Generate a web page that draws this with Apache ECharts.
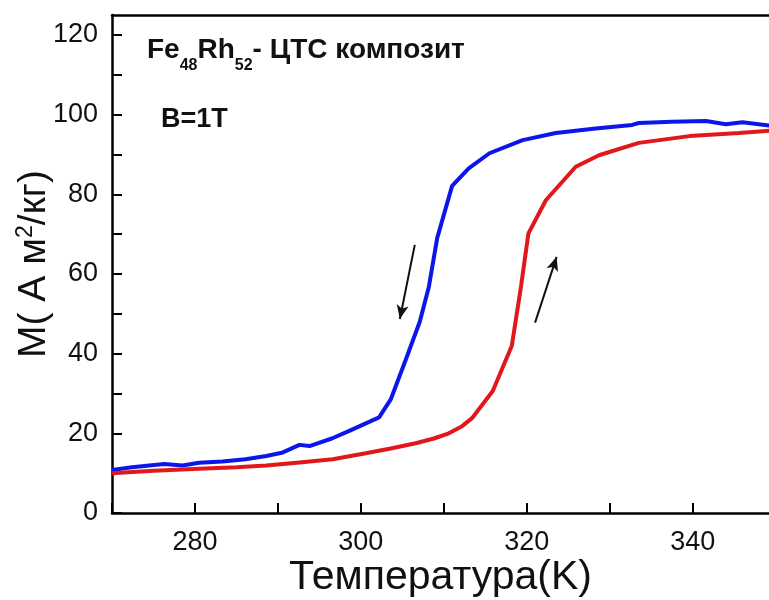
<!DOCTYPE html>
<html lang="ru">
  <head>
    <meta charset="UTF-8" />
    <title>FeRh</title>
    <script src="https://cdn.jsdelivr.net/npm/echarts@6/dist/echarts.min.js"></script>
    <style>
      html, body { margin: 0; padding: 0; background: #fff; }
      #main { width: 769px; height: 600px; }
    </style>
  </head>
  <body>
    <div id="main"></div>
    <script>
      // охлаждение (синяя кривая)
      var coolT = [270, 272.4, 276.3, 278.5, 280.5, 283.3, 286.1, 288.6, 290.6, 292.6, 293.8, 296.5, 298.6, 300.6, 302.2, 303.6, 305.4, 307.1, 308.2, 309.2, 311.0, 313.0, 315.5, 319.5, 323.5, 328.3, 332.7, 333.5, 337.5, 341.6, 344.0, 346.0, 349.5];
      var coolM = [10.8, 11.5, 12.3, 11.9, 12.6, 12.9, 13.5, 14.3, 15.2, 17.1, 16.8, 18.7, 20.6, 22.5, 24.0, 28.5, 38.4, 48.0, 56.8, 69.0, 82.1, 86.5, 90.3, 93.6, 95.4, 96.5, 97.4, 97.9, 98.2, 98.4, 97.6, 98.1, 97.2];
      // нагрев (красная кривая)
      var heatT = [270, 275, 280.5, 285, 288.6, 292.6, 296.6, 300.6, 303.6, 306.6, 308.8, 310.6, 312.2, 313.4, 315.9, 318.2, 319.3, 320.2, 322.3, 325.9, 328.7, 333.5, 339.6, 345.6, 349.5];
      var heatM = [10.0, 10.6, 11.1, 11.5, 11.9, 12.7, 13.5, 15.0, 16.2, 17.5, 18.7, 20.0, 21.8, 23.8, 30.6, 42.0, 56.8, 70.2, 78.5, 86.9, 89.8, 92.9, 94.6, 95.4, 96.0];
      var xTicks = [280, 300, 320, 340];
      var yTicks = [0, 20, 40, 60, 80, 100, 120];
      // стрелки направления (температура, намагниченность)
      var arrowDown = [[306.5, 67.3], [304.7, 48.7]];
      var arrowUp = [[321.0, 47.8], [323.6, 64.3]];

      function zip(a, b) {
        return a.map(function (v, i) { return [v, b[i]]; });
      }

      var myChart = echarts.init(document.getElementById("main"));
      var font = "Liberation Sans, Arial, sans-serif";
      var axisLine = { lineStyle: { color: "#000", width: 2.5 } };

      var option = {
        animation: false,
        grid: { left: 112, right: 0, top: 15, bottom: 87, outerBoundsMode: "none", containLabel: false },
        xAxis: [
          {
            type: "value",
            min: 270, max: 349.2, interval: 10,
            name: "Температура(K)",
            nameLocation: "middle",
            nameGap: 44,
            nameMoveOverlap: false,
            nameTextStyle: { fontSize: 41, color: "#111", fontFamily: font },
            axisLine: axisLine,
            axisTick: { inside: true, length: 10, lineStyle: { color: "#000", width: 2 } },
            splitLine: { show: false },
            axisLabel: {
              fontSize: 27, color: "#111", fontFamily: font, margin: 16,
              showMaxLabel: false,
              formatter: function (v) { return xTicks.indexOf(v) >= 0 ? String(v) : ""; },
            },
          },
          {
            type: "value", position: "top",
            min: 270, max: 349.2,
            axisLine: axisLine,
            axisTick: { show: false },
            axisLabel: { show: false },
            splitLine: { show: false },
          },
        ],
        yAxis: {
          type: "value",
          min: 0, max: 125, interval: 10,
          name: "{n|M( A м}{sup|2}{n|/кг)}",
          nameLocation: "middle",
          nameRotate: 90,
          nameGap: 58,
          nameMoveOverlap: false,
          nameTextStyle: {
            color: "#111", fontFamily: font,
            rich: {
              n: { fontSize: 39, fontFamily: font, color: "#111", verticalAlign: "bottom", lineHeight: 46 },
              sup: { fontSize: 23, fontFamily: font, color: "#111", verticalAlign: "bottom", padding: [0, 0, 17, 0], lineHeight: 46 },
            },
          },
          axisLine: axisLine,
          axisTick: { inside: true, length: 10, lineStyle: { color: "#000", width: 2 } },
          splitLine: { show: false },
          axisLabel: {
            fontSize: 27, color: "#111", fontFamily: font, margin: 14,
            showMaxLabel: false,
            formatter: function (v) { return yTicks.indexOf(v) >= 0 ? String(v) : ""; },
          },
        },
        graphic: [
          {
            type: "text", left: 147, top: 36,
            style: {
              text: "{b|Fe}{s|48}{b|Rh}{s|52}{b|- ЦТС композит}",
              rich: {
                b: { fontSize: 28, fontWeight: "bold", fontFamily: font, fill: "#111", verticalAlign: "bottom", lineHeight: 34 },
                s: { fontSize: 16, fontWeight: "bold", fontFamily: font, fill: "#111", verticalAlign: "bottom", padding: [0, 0, -10, 0], lineHeight: 34 },
              },
            },
          },
          {
            type: "text", left: 161, top: 106,
            style: { text: "B=1T", fontSize: 27, fontWeight: "bold", fontFamily: font, fill: "#111" },
          },
        ],
        series: [
          {
            name: "cool",
            type: "line",
            data: zip(coolT, coolM),
            showSymbol: false,
            lineStyle: { color: "#0d16e8", width: 4 },
            markLine: {
              silent: true,
              symbol: ["none", "arrow"],
              symbolSize: [9, 14],
              label: { show: false },
              lineStyle: { color: "#111", width: 2, type: "solid" },
              data: [
                [{ coord: arrowDown[0] }, { coord: arrowDown[1] }],
                [{ coord: arrowUp[0] }, { coord: arrowUp[1] }],
              ],
            },
          },
          {
            name: "heat",
            type: "line",
            data: zip(heatT, heatM),
            showSymbol: false,
            lineStyle: { color: "#e0181c", width: 4 },
          },
        ],
      };

      myChart.setOption(option);
    </script>
  </body>
</html>
